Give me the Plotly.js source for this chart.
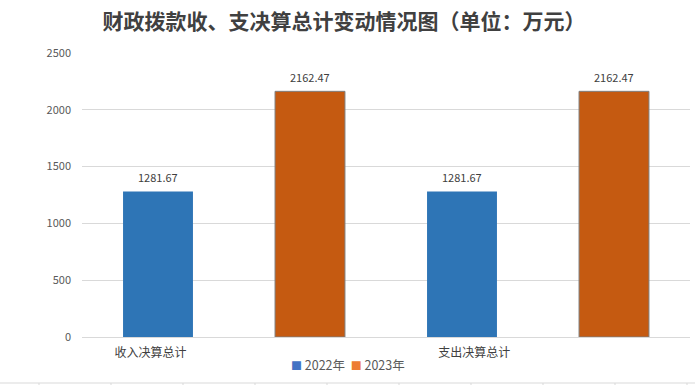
<!DOCTYPE html>
<html>
<head>
<meta charset="utf-8">
<script src="https://cdn.plot.ly/plotly-3.0.1.min.js"></script>
<style>html,body{margin:0;padding:0;background:#fff}#chart{width:695px;height:385px}</style>
</head>
<body>
<div id="chart"></div>
<script>
const categories = ["收入决算总计", "支出决算总计"];
const seriesNames = ["2022年", "2023年"];
const values2022 = [1281.67, 1281.67];
const values2023 = [2162.47, 2162.47];
const yTicks = [0, 500, 1000, 1500, 2000, 2500];

const barColors = ["#2E75B6", "#C55A11"];
const legendColors = ["#4472C4", "#ED7D31"];

// four slots: 2022, 2023, 2022, 2023
const x2022 = categories.map((c, i) => i * 2);
const x2023 = categories.map((c, i) => i * 2 + 1);

const traces = [
  {type: "bar", name: seriesNames[0], x: x2022, y: values2022, width: 0.46, marker: {color: barColors[0]}, showlegend: false, hoverinfo: "y"},
  {type: "bar", name: seriesNames[1], x: x2023, y: values2023, width: 0.46, marker: {color: barColors[1], line: {color: "#7F7F7F", width: 1}}, showlegend: false, hoverinfo: "y"}
];

const annotations = [];
x2022.forEach((x, i) => annotations.push({x: x, y: values2022[i], text: values2022[i].toFixed(2), showarrow: false, yshift: 14, font: {size: 11, color: "#404040"}}));
x2023.forEach((x, i) => annotations.push({x: x, y: values2023[i], text: values2023[i].toFixed(2), showarrow: false, yshift: 14, font: {size: 11, color: "#404040"}}));

// legend drawn as text
const legendText = seriesNames.map((n, i) => `<span style="color:${legendColors[i]};font-size:11px">■</span> ${n}`).join("&nbsp;&nbsp;");
annotations.push({xref: "paper", yref: "paper", x: 0.4375, y: -27/284, xanchor: "center", yanchor: "middle", text: legendText, showarrow: false, font: {size: 12.5, color: "#595959"}});

// decorative sheet cell line at the very bottom
const shapes = [{type: "line", xref: "paper", yref: "paper", x0: -82/608, x1: 613/608, y0: -46/284, y1: -46/284, line: {color: "#D9D9D9", width: 1}}];
for (let px = 39; px < 695; px += 72) {
  shapes.push({type: "line", xref: "paper", yref: "paper", x0: (px-82)/608, x1: (px-82)/608, y0: -46/284, y1: -50/284, line: {color: "#D9D9D9", width: 1}});
}

const layout = {
  width: 695, height: 385,
  margin: {l: 82, r: 5, t: 53, b: 48},
  paper_bgcolor: "#fff", plot_bgcolor: "#fff",
  font: {family: "'Noto Sans CJK SC', 'Noto Sans', sans-serif", color: "#595959"},
  title: {text: "财政拨款收、支决算总计变动情况图（单位：万元）", font: {family: "'Noto Sans CJK SC', sans-serif", size: 21, weight: "bold", color: "#404040"}, x: 0.495, xanchor: "center", y: 1 - 22/385, yanchor: "middle", yref: "container"},
  barmode: "overlay",
  xaxis: {range: [-0.5, 3.5], tickvals: [-0.05, 2.08], ticktext: categories, showgrid: false, zeroline: false, showline: false, ticks: "", ticklabelstandoff: 7, tickfont: {size: 12, color: "#404040"}, fixedrange: true},
  yaxis: {range: [0, 2500], tickvals: yTicks, ticktext: yTicks.map(String), showgrid: true, gridcolor: "#D9D9D9", gridwidth: 1, zeroline: true, zerolinecolor: "#D9D9D9", zerolinewidth: 1, showline: false, ticks: "", ticklabelstandoff: 10, tickfont: {size: 11, color: "#595959"}},
  annotations: annotations,
  shapes: shapes,
  showlegend: false
};

Plotly.newPlot("chart", traces, layout, {displayModeBar: false, staticPlot: true});
</script>
</body>
</html>
